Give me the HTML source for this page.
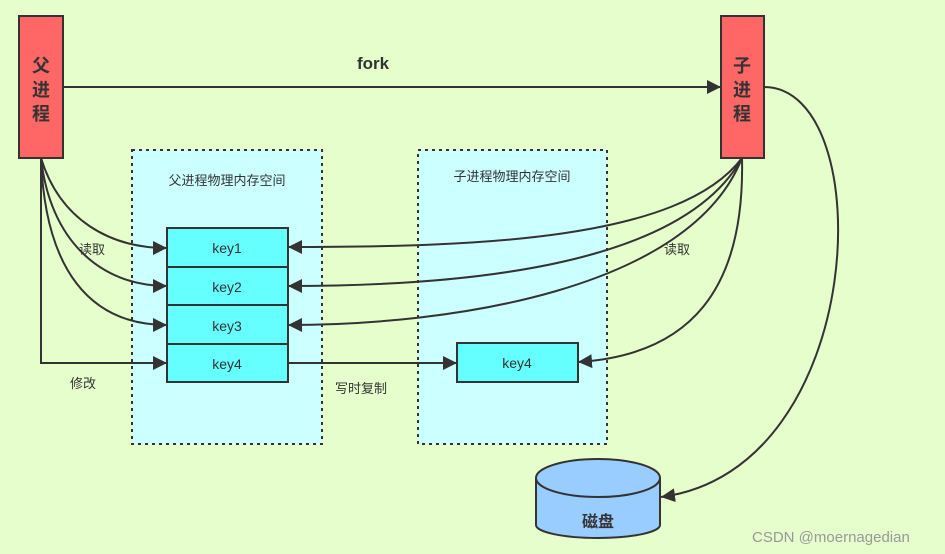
<!DOCTYPE html>
<html><head><meta charset="utf-8"><style>
html,body{margin:0;padding:0;background:#e6fdcc;}
svg{display:block}
text{font-family:"Liberation Sans","Noto Sans CJK SC",sans-serif;fill:#333}
</style></head><body>
<svg width="945" height="554" viewBox="0 0 945 554" xmlns="http://www.w3.org/2000/svg">
<defs>
<marker id="a" viewBox="0 0 10 10" refX="10" refY="5" markerWidth="14" markerHeight="14" markerUnits="userSpaceOnUse" orient="auto"><path d="M0,0 L10,5 L0,10 z" fill="#333"/></marker>
</defs>
<rect width="945" height="554" fill="#e6fdcc"/>
<rect x="132" y="150" width="190" height="294" fill="#ccffff" stroke="#333" stroke-width="2" stroke-dasharray="3,4"/>
<rect x="418" y="150" width="189" height="294" fill="#ccffff" stroke="#333" stroke-width="2" stroke-dasharray="3,4"/>
<text x="227" y="185" font-size="13" text-anchor="middle">父进程物理内存空间</text>
<text x="512" y="181" font-size="13" text-anchor="middle">子进程物理内存空间</text>
<g stroke="#333" stroke-width="2" fill="#66ffff">
<rect x="167" y="228" width="121" height="39"/>
<rect x="167" y="267" width="121" height="38"/>
<rect x="167" y="305" width="121" height="39"/>
<rect x="167" y="344" width="121" height="38"/>
<rect x="457" y="343" width="121" height="39"/>
</g>
<g font-size="14" text-anchor="middle">
<text x="227" y="253">key1</text><text x="227" y="292">key2</text><text x="227" y="331">key3</text><text x="227" y="369">key4</text><text x="517" y="368">key4</text>
</g>
<rect x="19" y="16" width="44" height="142" fill="#ff6666" stroke="#333" stroke-width="2"/>
<rect x="721" y="16" width="43" height="142" fill="#ff6666" stroke="#333" stroke-width="2"/>
<g font-size="18" text-anchor="middle" font-weight="bold">
<text x="41" y="72">父</text><text x="41" y="96">进</text><text x="41" y="120">程</text>
<text x="742" y="72">子</text><text x="742" y="96">进</text><text x="742" y="120">程</text>
</g>
<g stroke="#333" stroke-width="2" fill="none" marker-end="url(#a)">
<path d="M63,87 L721,87"/>
<path d="M41,158 C60,220 110,248 167,248"/>
<path d="M41,158 C50,240 100,286 167,286"/>
<path d="M41,158 C45,270 90,325 167,325"/>
<path d="M41,158 L41,363 L167,363"/>
<path d="M742,158 C680,240 480,247 288,247"/>
<path d="M742,158 C680,270 450,286 288,286"/>
<path d="M742,158 C690,290 450,325 288,325"/>
<path d="M742,158 C745,290 690,355 578,362"/>
<path d="M288,363 L457,363"/>
<path d="M764,87 C880,87 870,470 661,497"/>
</g>
<g stroke="#333" stroke-width="2" fill="#99ccff">
<path d="M536,478 L536,525 A62,13 0 0 0 660,525 L660,478"/>
<ellipse cx="598" cy="478" rx="62" ry="19"/>
</g>
<text x="598" y="527" font-size="16" font-weight="bold" text-anchor="middle">磁盘</text>
<text x="373" y="69" font-size="17" font-weight="bold" text-anchor="middle">fork</text>
<g font-size="13">
<text x="79" y="254">读取</text><text x="664" y="254">读取</text>
<text x="70" y="388">修改</text><text x="335" y="393">写时复制</text>
</g>
<text x="752" y="542" font-size="15" style="fill:#999">CSDN @moernagedian</text>
</svg>
</body></html>
